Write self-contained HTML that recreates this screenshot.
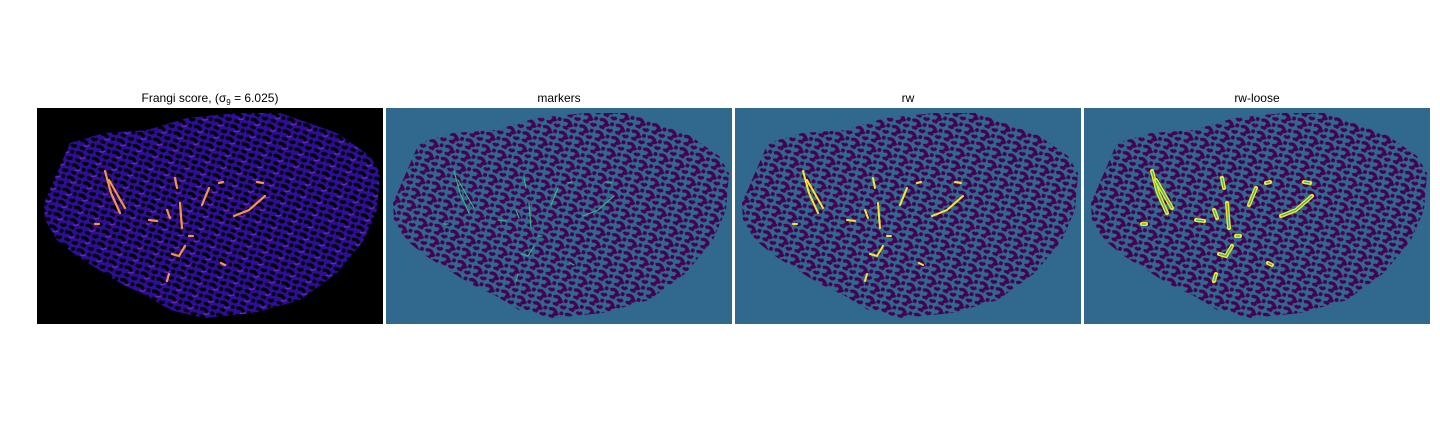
<!DOCTYPE html>
<html><head><meta charset="utf-8">
<style>
body{margin:0;background:#fff;width:1440px;height:432px;overflow:hidden;font-family:"Liberation Sans","DejaVu Sans",sans-serif}
svg{display:block}
</style></head>
<body>
<svg id="fig" width="1440" height="432">
<defs>
<pattern id="pf" width="17" height="13" patternUnits="userSpaceOnUse" patternTransform="rotate(20)">
<rect width="17" height="13" fill="#2e0e96"/>
<path d="M1 3 q4 -3 8 1 M11 9 q3 3 5 -1 M3 10 q2 -2 5 0" stroke="#000" stroke-width="3.2" fill="none"/>
<circle cx="14" cy="3" r="2" fill="#000"/>
<path d="M6 6 q3 1 5 -2" stroke="#7a2bc0" stroke-width="1" fill="none"/>
</pattern>
<pattern id="pm" width="17" height="13" patternUnits="userSpaceOnUse" patternTransform="rotate(20)">
<rect width="17" height="13" fill="#31688e"/>
<path d="M1 3 q4 -3 8 1 M11 9 q3 3 5 -1 M3 10 q2 -2 5 0 M6 6 q3 1 5 -2" stroke="#440154" stroke-width="3.2" fill="none"/>
<circle cx="14" cy="3" r="2" fill="#440154"/>
</pattern>
</defs>
</svg>
<script>
const panelTitles=["Frangi score, (σ","markers","rw","rw-loose"];
const outlineX=[7,33,67,110,150,200,243,300,333,343,340,327,300,263,217,167,133,110,83,67,40,20,8];
const outlineY=[95,35,25,22,10,5,5,25,48,65,102,132,165,192,205,210,202,188,175,165,148,132,112];
const vessels=[
 [[68,63],[74,85],[83,105]],[[72,72],[80,86],[88,100]],[[138,70],[140,80]],
 [[143,95],[144,108],[145,120]],[[165,97],[172,80]],[[197,108],[212,102],[228,88]],
 [[135,146],[142,148],[148,138]],[[112,112],[120,113]],[[182,75],[186,74]],
 [[220,74],[226,75]],[[132,166],[130,173]],[[184,155],[188,157]],[[130,102],[133,110]],
 [[58,116],[62,116]],[[152,128],[156,128]]
];
const svg=document.getElementById('fig');
const NS='http://www.w3.org/2000/svg';
const px0=[37,386,735,1084], py0=108, pw=346, ph=216;
function mk(t,a,parent){const e=document.createElementNS(NS,t);for(const k in a)e.setAttribute(k,a[k]);(parent||svg).appendChild(e);return e;}
const outlineD='M'+outlineX.map((x,i)=>x+','+outlineY[i]).join(' L')+' Z';
panelTitles.forEach((t,i)=>{
 const g=mk('g',{transform:`translate(${px0[i]},${py0})`});
 
 
 const bg=mk('rect',{width:pw,height:ph,fill:i==0?'#000':'#31688e'},g);
 
 
 const blob=mk('path',{d:outlineD,fill:i==0?'url(#pf)':'url(#pm)'},g);
 
 
 vessels.forEach((v,j)=>{
  const d='M'+v.map(p=>p[0]+','+p[1]).join(' L');
  let col,w;
  if(i==0){col='#f89540';w=2.2;}
  else if(i==1){col='#35b779';w=1.2;}
  else if(i==2){col='#fde725';w=2;}
  else {col='#fde725';w=4;}
  const l=mk('path',{d:d,stroke:col,'stroke-width':w,fill:'none','stroke-linecap':'round'},g);
  
  
  if(i==3){const c=mk('path',{d:d,stroke:'#35b779','stroke-width':1.3,fill:'none'},g);
   
   }
 });
 const tx=mk('text',{x:px0[i]+pw/2,y:102,'text-anchor':'middle','font-size':12,fill:'#000'});
 
 
 tx.textContent=t;
 if(i==0){
  const s=mk('tspan',{'font-size':8,dy:3},tx);s.textContent='9';
  const r=mk('tspan',{dy:-3},tx);r.textContent=' = 6.025)';
 }
});
</script>
</body></html>
